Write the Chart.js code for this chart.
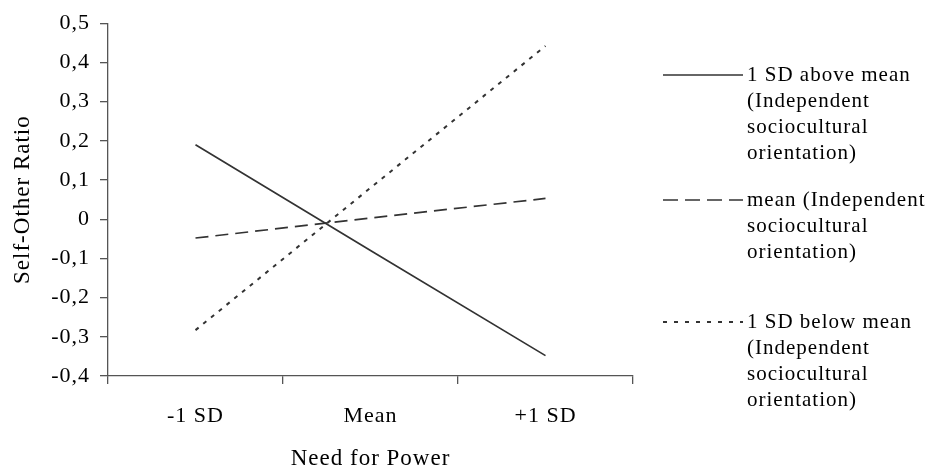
<!DOCTYPE html>
<html>
<head>
<meta charset="utf-8">
<script src="https://cdn.jsdelivr.net/npm/chart.js@4"></script>
<style>
  body { margin: 0; background: #fff; }
  #wrap { width: 930px; height: 474px; }
</style>
</head>
<body>
<div id="wrap"><canvas id="chart"></canvas></div>
<script>
const categories = ["-1 SD", "Mean", "+1 SD"];
const aboveMean = [0.19, -0.08, -0.348];
const atMean = [-0.048, 0.003, 0.053];
const belowMean = [-0.283, 0.08, 0.442];
const yMin = -0.4;
const yMax = 0.5;
const seriesNames = [
  ["1 SD above mean", "(Independent", "sociocultural", "orientation)"],
  ["mean (Independent", "sociocultural", "orientation)"],
  ["1 SD below mean", "(Independent", "sociocultural", "orientation)"],
];

const serif = "'Liberation Serif', 'Times New Roman', serif";
const lineColor = "#333";

// canvas state is reset on resize, so put the spacing back before each pass
const spacing = {
  id: "spacing",
  beforeLayout(chart) { chart.ctx.letterSpacing = "1px"; },
  beforeDraw(chart) { chart.ctx.letterSpacing = "1px"; },
};

// legend on the right with wrapped labels
const sideLegend = {
  id: "sideLegend",
  afterDraw(chart) {
    const ctx = chart.ctx;
    const tops = [75, 200, 322];
    ctx.save();
    ctx.letterSpacing = "1px";
    ctx.font = "21px " + serif;
    ctx.fillStyle = "#000";
    ctx.textBaseline = "middle";
    chart.data.datasets.forEach((ds, i) => {
      const y = tops[i];
      ctx.strokeStyle = ds.borderColor;
      ctx.lineWidth = ds.borderWidth;
      ctx.setLineDash(ds.legendDash || []);
      ctx.beginPath();
      ctx.moveTo(663, y);
      ctx.lineTo(743, y);
      ctx.stroke();
      seriesNames[i].forEach((t, j) => {
        ctx.fillText(t, 747, y + j * 26);
      });
    });
    ctx.restore();
  },
};

new Chart(document.getElementById("chart"), {
  type: "line",
  data: {
    labels: categories,
    datasets: [
      {
        label: seriesNames[0].join(" "),
        data: aboveMean,
        borderColor: lineColor,
        borderWidth: 1.7,
        borderDash: [],
        legendDash: [],
      },
      {
        label: seriesNames[1].join(" "),
        data: atMean,
        borderColor: lineColor,
        borderWidth: 1.7,
        borderDash: [13, 7],
        legendDash: [15, 7],
      },
      {
        label: seriesNames[2].join(" "),
        data: belowMean,
        borderColor: lineColor,
        borderWidth: 2,
        borderDash: [4, 6],
        legendDash: [4, 7],
      },
    ],
  },
  options: {
    responsive: true,
    maintainAspectRatio: false,
    animation: false,
    elements: { point: { radius: 0 }, line: { tension: 0 } },
    layout: { padding: { top: 20, right: 297, bottom: 0, left: 0 } },
    plugins: { legend: { display: false }, tooltip: { enabled: false } },
    scales: {
      x: {
        offset: true,
        afterFit(s) { s.height = 98; },
        border: { color: "#555", width: 1.3 },
        grid: { offset: true, drawOnChartArea: false, tickLength: 8, color: "#555", lineWidth: 1.3 },
        ticks: { color: "#000", padding: 19, font: { family: serif, size: 22 } },
        title: {
          display: true,
          text: "Need for Power",
          color: "#000",
          font: { family: serif, size: 23 },
          padding: { top: 0, bottom: 1 },
        },
      },
      y: {
        min: yMin,
        max: yMax,
        afterFit(s) { s.width = 108; },
        border: { color: "#555", width: 1.3 },
        grid: { drawOnChartArea: false, tickLength: 8, color: "#555", lineWidth: 1.3 },
        ticks: {
          stepSize: 0.1,
          color: "#000",
          padding: 10,
          font: { family: serif, size: 22 },
          callback(v) {
            if (Math.abs(v) < 1e-9) return "0";
            return v.toFixed(1).replace(".", ",");
          },
        },
        title: {
          display: true,
          text: "Self-Other Ratio",
          color: "#000",
          font: { family: serif, size: 23 },
          padding: { top: 9, bottom: 0 },
        },
      },
    },
  },
  plugins: [spacing, sideLegend],
});
</script>
</body>
</html>
